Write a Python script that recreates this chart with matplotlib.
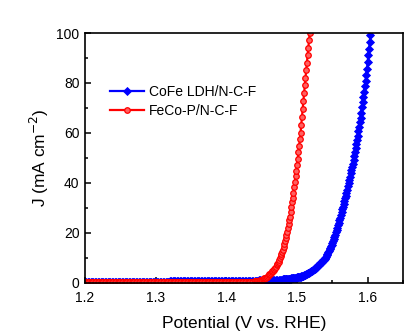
import numpy as np
import matplotlib
matplotlib.use("Agg")
import matplotlib.pyplot as plt
import matplotlib.ticker as ticker

plt.rcParams["font.family"] = ["Liberation Sans", "DejaVu Sans"]

# ── data ──────────────────────────────────────────────────────────────────────

# CoFe LDH/N-C-F : baseline 1.200-1.478 V (2 mV), rise 1.480-1.604 V (1 mV)
cofe_base_v = np.round(np.arange(1.200, 1.4781, 0.002), 3)
cofe_base_j = [
    0.45, 0.45, 0.45, 0.45, 0.45, 0.45, 0.45, 0.45, 0.45, 0.45, 0.45, 0.45, 0.45, 0.45, 0.45, 0.45, 0.45, 0.45, 0.45, 0.45,
    0.45, 0.45, 0.45, 0.45, 0.45, 0.45, 0.45, 0.45, 0.45, 0.45, 0.45, 0.45, 0.45, 0.45, 0.45, 0.45, 0.45, 0.45, 0.45, 0.45,
    0.45, 0.45, 0.45, 0.45, 0.45, 0.45, 0.45, 0.45, 0.45, 0.45, 0.45, 0.45, 0.45, 0.45, 0.45, 0.45, 0.45, 0.45, 0.45, 0.45,
    0.75, 0.75, 0.75, 0.75, 0.75, 0.75, 0.75, 0.75, 0.75, 0.75, 0.75, 0.75, 0.75, 0.75, 0.75, 0.75, 0.75, 0.75, 0.75, 0.75,
    0.8, 0.8, 0.8, 0.8, 0.8, 0.8, 0.8, 0.8, 0.8, 0.8, 0.8, 0.8, 0.8, 0.8, 0.8, 0.8, 0.8, 0.8, 0.8, 0.8,
    0.85, 0.85, 0.85, 0.85, 0.85, 0.85, 0.85, 0.85, 0.85, 0.85, 0.9, 0.9, 0.9, 0.9, 0.9, 0.9, 0.9, 0.9, 0.9, 0.9,
    0.95, 0.95, 0.95, 1.0, 1.0, 1.02, 1.05, 1.08, 1.11, 1.14, 1.17, 1.2, 1.23, 1.26, 1.29, 1.32, 1.35, 1.37, 1.38, 1.39,
]
cofe_rise_v = np.round(np.arange(1.480, 1.6041, 0.001), 3)
cofe_rise_j = [
    1.40, 1.43, 1.46, 1.49, 1.52, 1.55, 1.58, 1.61, 1.64, 1.67,
    1.70, 1.75, 1.80, 1.85, 1.90, 1.95, 2.00, 2.05, 2.10, 2.15,
    2.20, 2.26, 2.32, 2.38, 2.44, 2.50, 2.62, 2.74, 2.86, 2.98,
    3.10, 3.24, 3.38, 3.52, 3.66, 3.80, 3.96, 4.12, 4.28, 4.44,
    4.60, 4.80, 5.00, 5.20, 5.40, 5.60, 5.88, 6.16, 6.44, 6.72,
    7.00, 7.28, 7.56, 7.84, 8.12, 8.40, 8.72, 9.04, 9.36, 9.68,
    10.0, 10.56, 11.12, 11.68, 12.24, 12.8, 13.44, 14.08, 14.72, 15.36,
    16.0, 16.84, 17.68, 18.52, 19.36, 20.2, 21.16, 22.12, 23.08, 24.04,
    25.0, 26.1, 27.2, 28.3, 29.4, 30.5, 31.6, 32.7, 33.8, 34.9,
    36.0, 37.3, 38.6, 39.9, 41.2, 42.5, 43.8, 45.1, 46.4, 47.7,
    49.0, 50.6, 52.2, 53.8, 55.4, 57.0, 58.8, 60.6, 62.4, 64.2,
    66.0, 68.1, 70.2, 72.3, 74.4, 76.5, 78.6, 80.8, 83.0, 85.7,
    88.4, 91.0, 93.7, 96.4, 99.1,
]

# FeCo-P/N-C-F : baseline 1.200-1.438 V (2 mV), rise 1.440-1.518 V (1 mV)
fecop_base_v = np.round(np.arange(1.200, 1.4381, 0.002), 3)
fecop_base_j = [
    0.45, 0.45, 0.45, 0.45, 0.45, 0.45, 0.45, 0.45, 0.45, 0.45, 0.45, 0.45, 0.45, 0.45, 0.45, 0.45, 0.45, 0.45, 0.45, 0.45,
    0.45, 0.45, 0.45, 0.45, 0.45, 0.45, 0.45, 0.45, 0.45, 0.45, 0.45, 0.45, 0.45, 0.45, 0.45, 0.45, 0.45, 0.45, 0.45, 0.45,
    0.45, 0.45, 0.45, 0.45, 0.45, 0.45, 0.45, 0.45, 0.45, 0.45, 0.45, 0.45, 0.45, 0.45, 0.45, 0.45, 0.45, 0.45, 0.45, 0.45,
    0.5, 0.5, 0.5, 0.5, 0.5, 0.5, 0.5, 0.5, 0.5, 0.5, 0.5, 0.5, 0.5, 0.5, 0.5, 0.5, 0.5, 0.5, 0.5, 0.5,
    0.5, 0.5, 0.5, 0.5, 0.5, 0.5, 0.5, 0.5, 0.5, 0.5, 0.5, 0.5, 0.5, 0.5, 0.5, 0.5, 0.5, 0.5, 0.5, 0.5,
    0.5, 0.5, 0.5, 0.5, 0.5, 0.5, 0.5, 0.5, 0.5, 0.51, 0.52, 0.53, 0.54, 0.55, 0.56, 0.57, 0.58, 0.58, 0.59, 0.59,
]
fecop_rise_v = np.round(np.arange(1.440, 1.5181, 0.001), 3)
fecop_rise_j = [
    0.60, 0.65, 0.70, 0.75, 0.80, 0.85, 0.90, 0.95, 1.00, 1.10,
    1.20, 1.35, 1.50, 1.65, 1.80, 2.00, 2.15, 2.30, 2.50, 2.80,
    3.10, 3.40, 3.70, 4.00, 4.30, 4.60, 4.90, 5.20, 5.60, 6.00,
    6.50, 7.00, 7.50, 8.00, 8.50, 9.00, 9.80, 10.6, 11.4, 12.2,
    13.0, 14.2, 15.4, 16.6, 17.8, 19.0, 20.5, 22.0, 23.5, 25.0,
    26.5, 28.4, 30.3, 32.2, 34.1, 36.0, 38.2, 40.4, 42.6, 44.8,
    47.0, 49.6, 52.2, 54.8, 57.4, 60.0, 63.2, 66.4, 69.6, 72.8,
    76.0, 79.0, 82.0, 85.0, 88.0, 91.0, 94.0, 97.0, 100.0,
]

x_ticks = [1.2, 1.3, 1.4, 1.5, 1.6]
y_ticks = [0, 20, 40, 60, 80, 100]


# ── plot ──────────────────────────────────────────────────────────────────────

fig = plt.figure(figsize=(4.2, 3.33), dpi=100)
ax = fig.add_axes([0.2024, 0.1502, 0.7571, 0.7507])

cofe_v = np.concatenate([cofe_base_v, cofe_rise_v])
cofe_j = np.concatenate([cofe_base_j, cofe_rise_j])
fecop_v = np.concatenate([fecop_base_v, fecop_rise_v])
fecop_j = np.concatenate([fecop_base_j, fecop_rise_j])

ax.plot(cofe_v, cofe_j, color="#0000ff", linewidth=1.6, marker="D",
        markersize=3.8, markeredgewidth=0.6, label="CoFe LDH/N-C-F",
        zorder=2, clip_on=True)
ax.plot(fecop_v, fecop_j, color="#ff0000", linewidth=1.6, marker="o",
        markersize=4.0, markerfacecolor="#ff6060", markeredgewidth=0.9,
        label="FeCo-P/N-C-F", zorder=3, clip_on=True)

ax.set_xlim(1.2, 1.65)
ax.set_ylim(0, 100)
ax.set_xticks(x_ticks)
ax.set_yticks(y_ticks)
ax.xaxis.set_major_formatter(ticker.FormatStrFormatter("%.1f"))
ax.xaxis.set_minor_locator(ticker.MultipleLocator(0.05))
ax.yaxis.set_minor_locator(ticker.MultipleLocator(10))
ax.tick_params(which="both", direction="in", top=False, right=False,
               labelsize=10, width=1.1)
ax.tick_params(which="major", length=4.5)
ax.tick_params(axis="x", which="major", pad=6)
ax.tick_params(axis="y", which="major", pad=4)
ax.tick_params(which="minor", length=2.5)
for s in ax.spines.values():
    s.set_linewidth(1.2)
    s.set_zorder(4)

ax.set_xlabel("Potential (V vs. RHE)", fontsize=12.5, labelpad=8)
ax.set_ylabel("J (mA cm$^{-2}$)", fontsize=12.5, labelpad=4)

ax.legend(loc="upper left", bbox_to_anchor=(0.06, 0.815), frameon=False,
          fontsize=10, numpoints=1, handlelength=2.5, handletextpad=0.3,
          labelspacing=0.35, borderaxespad=0)

fig.savefig("out.png", dpi=100)
